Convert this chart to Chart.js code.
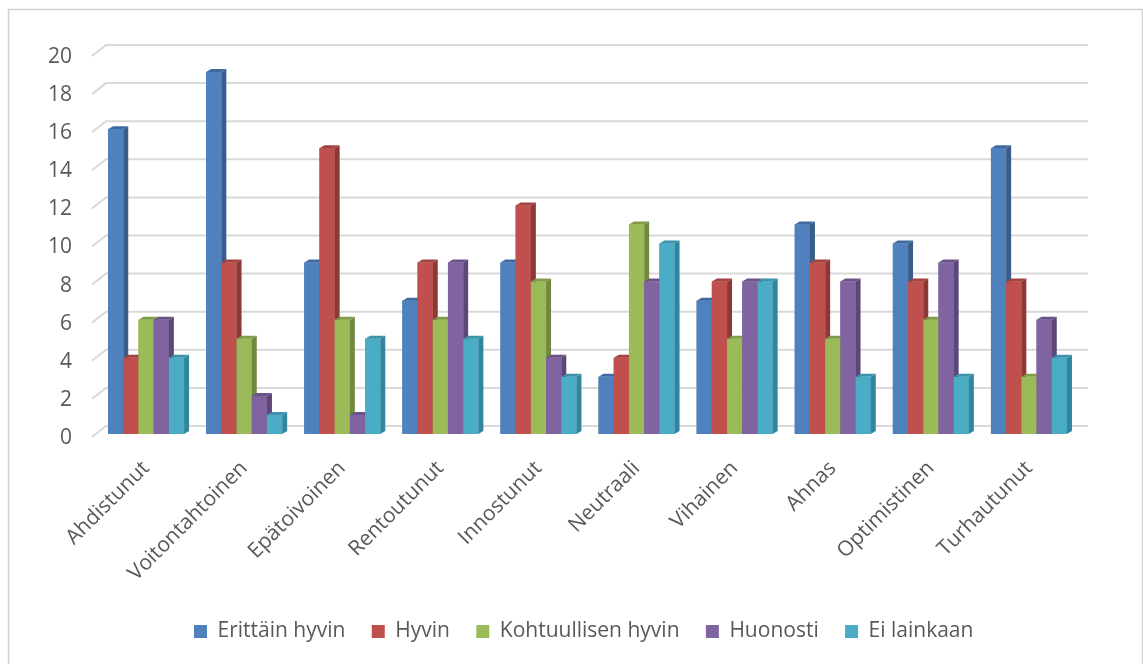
<!DOCTYPE html>
<html lang="fi">
<head>
<meta charset="utf-8">
<title>Tunteet</title>
<script src="https://cdn.jsdelivr.net/npm/chart.js@4.4.1/dist/chart.umd.min.js"></script>
<style>
  html, body { margin: 0; padding: 0; background: #ffffff; }
  #wrap { width: 1143px; height: 664px; position: relative; }
</style>
</head>
<body>
<div id="wrap"><canvas id="kaavio" width="1143" height="664"></canvas></div>
<script>
// Luokat (x-akseli)
const kategoriat = ['Ahdistunut', 'Voitontahtoinen', 'Epätoivoinen', 'Rentoutunut', 'Innostunut',
                    'Neutraali', 'Vihainen', 'Ahnas', 'Optimistinen', 'Turhautunut'];

// Sarjat
const sarjaNimet = ['Erittäin hyvin', 'Hyvin', 'Kohtuullisen hyvin', 'Huonosti', 'Ei lainkaan'];
const erittainHyvin     = [16, 19, 9, 7, 9, 3, 7, 11, 10, 15];
const hyvin             = [4, 9, 15, 9, 12, 4, 8, 9, 8, 8];
const kohtuullisenHyvin = [6, 5, 6, 6, 8, 11, 5, 5, 6, 3];
const huonosti          = [6, 2, 1, 9, 4, 8, 8, 8, 9, 6];
const eiLainkaan        = [4, 1, 5, 5, 3, 10, 8, 3, 3, 4];

// Y-akselin asteikko
const yMin = 0;
const yMax = 20;
const yAskel = 2;

// Värit: etupinta, sivu, yläpinta
const VARIT = [
  { etu: '#4F81BD', sivu: '#385D8A', yla: '#3F6A9F' },
  { etu: '#C0504D', sivu: '#8C3836', yla: '#A3423F' },
  { etu: '#9BBB59', sivu: '#71893F', yla: '#819C48' },
  { etu: '#8064A2', sivu: '#5C4776', yla: '#6A5288' },
  { etu: '#4BACC6', sivu: '#31859C', yla: '#3C93AB' }
];
const TEKSTI = '#595959';
const RUUDUKKO = '#d9d9d9';

const sarjat = [erittainHyvin, hyvin, kohtuullisenHyvin, huonosti, eiLainkaan];

Chart.defaults.font.family = "'Open Sans', sans-serif";
Chart.defaults.color = TEKSTI;

// Kehys ja "seinän" ruudukko
const taustaPlugin = {
  id: 'tausta',
  beforeDraw(chart) {
    const ctx = chart.ctx;
    ctx.save();
    ctx.fillStyle = '#ffffff';
    ctx.fillRect(0, 0, chart.width, chart.height);
    ctx.strokeStyle = '#d0d0d0';
    ctx.lineWidth = 1.5;
    ctx.strokeRect(8.5, 9.5, 1134, 720);
    ctx.restore();
  },
  afterLayout(chart) {
    // selite keskelle koko kuvaa, ei piirtoalueen mukaan
    const lg = chart.legend;
    const pad = lg.options.labels.padding;
    const alku = (lg.left + pad + lg.right - lg.lineWidths[0]) / 2;
    const siirto = 194 - alku;
    lg.left += siirto;
    lg.right += siirto;
  },
  beforeDatasetsDraw(chart) {
    const ctx = chart.ctx;
    const y = chart.scales.y;
    const { left, right } = chart.chartArea;
    ctx.save();
    ctx.strokeStyle = RUUDUKKO;
    ctx.lineWidth = 2;
    for (let v = yMin; v <= yMax; v += yAskel) {
      const py = y.getPixelForValue(v);
      ctx.beginPath();
      ctx.moveTo(left - 5, py + 3);
      ctx.lineTo(left + 9, py - 8);
      ctx.lineTo(right + 10, py - 8);
      ctx.stroke();
    }
    ctx.restore();
  }
};

// Pylväiden 3D-pinnat, piirretään vasemmalta oikealle
const pylvas3d = {
  id: 'pylvas3d',
  afterDatasetsDraw(chart) {
    const ctx = chart.ctx;
    const dx = 5, dy = 3;
    ctx.save();
    for (let i = 0; i < kategoriat.length; i++) {
      chart.data.datasets.forEach((ds, d) => {
        const el = chart.getDatasetMeta(d).data[i];
        const { x, y, base, width } = el.getProps(['x', 'y', 'base', 'width'], true);
        const l = x - width / 2, r = x + width / 2;
        const c = VARIT[d];
        ctx.fillStyle = c.etu;
        ctx.fillRect(l, y, width, base - y);
        ctx.fillStyle = c.sivu;
        ctx.beginPath();
        ctx.moveTo(r, y); ctx.lineTo(r + dx, y - dy);
        ctx.lineTo(r + dx, base - dy); ctx.lineTo(r, base);
        ctx.closePath(); ctx.fill();
        ctx.fillStyle = c.yla;
        ctx.beginPath();
        ctx.moveTo(l, y); ctx.lineTo(l + dx, y - dy);
        ctx.lineTo(r + dx, y - dy); ctx.lineTo(r, y);
        ctx.closePath(); ctx.fill();
      });
    }
    ctx.restore();
  }
};

new Chart(document.getElementById('kaavio').getContext('2d'), {
  type: 'bar',
  data: {
    labels: kategoriat,
    datasets: sarjaNimet.map((nimi, i) => ({
      label: nimi,
      data: sarjat[i],
      backgroundColor: VARIT[i].etu,
      borderWidth: 0,
      categoryPercentage: 0.775,
      barPercentage: 1
    }))
  },
  options: {
    responsive: false,
    animation: false,
    devicePixelRatio: 1,
    layout: { padding: { top: 53, right: 65, bottom: 12, left: 0 } },
    plugins: {
      tooltip: { enabled: false },
      legend: {
        position: 'bottom',
        labels: {
          boxWidth: 13,
          boxHeight: 13,
          padding: 10,
          color: TEKSTI,
          font: { size: 21 },
          generateLabels(chart) {
            const oletus = Chart.defaults.plugins.legend.labels.generateLabels(chart);
            return oletus.map((it, i) => {
              if (i < oletus.length - 1) it.text = it.text + '   ';
              return it;
            });
          }
        }
      }
    },
    scales: {
      x: {
        grid: { display: false, drawTicks: false },
        border: { display: false },
        ticks: {
          maxRotation: 45,
          minRotation: 45,
          autoSkip: false,
          padding: 22,
          color: TEKSTI,
          font: { size: 21 }
        },
        afterFit(ax) { ax.height = 177; }
      },
      y: {
        min: yMin,
        max: yMax,
        grid: { display: false, drawTicks: false },
        border: { display: false },
        ticks: {
          stepSize: yAskel,
          padding: 25,
          labelOffset: 4,
          color: TEKSTI,
          font: { size: 21 }
        },
        afterFit(ax) { ax.width = 97; }
      }
    }
  },
  plugins: [taustaPlugin, pylvas3d]
});
</script>
</body>
</html>
